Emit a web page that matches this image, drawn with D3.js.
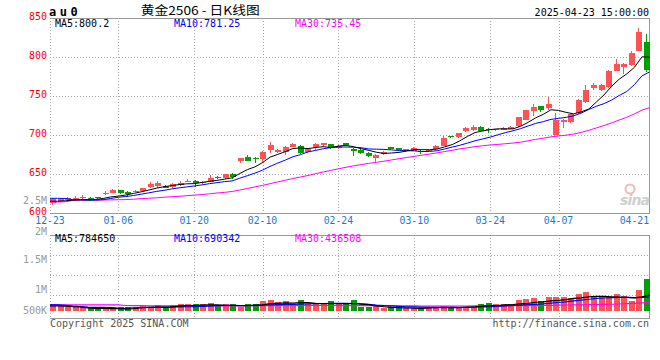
<!DOCTYPE html>
<html><head><meta charset="utf-8">
<script src="https://cdn.jsdelivr.net/npm/d3@7/dist/d3.min.js"></script>
<style>body{margin:0;background:#fff}svg{display:block}</style>
</head><body><svg id="c" width="660" height="360"></svg>
<script>
const dates = ["12-23","12-24","12-25","12-26","12-27","12-30","12-31",
"01-02","01-03","01-06","01-07","01-08","01-09","01-10","01-13","01-14","01-15","01-16","01-17","01-20","01-21","01-22","01-23","01-24","01-27",
"02-05","02-06","02-07","02-10","02-11","02-12","02-13","02-14","02-17","02-18","02-19","02-20","02-21","02-24","02-25","02-26","02-27","02-28",
"03-03","03-04","03-05","03-06","03-07","03-10","03-11","03-12","03-13","03-14","03-17","03-18","03-19","03-20","03-21","03-24","03-25","03-26","03-27","03-28","03-31",
"04-01","04-02","04-03","04-07","04-08","04-09","04-10","04-11","04-14","04-15","04-16","04-17","04-18","04-21","04-22","04-23"];
const open = [613,616,617,618.5,619,619,620.5,624.5,626.5,630,627.5,628,628,634,635,635.5,634,636,640.5,642,638.5,640.5,646.5,645,650.5,
667,672.5,670.5,669,681.5,678,679,685.5,686.5,678,685,687,688.5,683.5,689.5,683,681,677,670.5,676,684.5,683.5,679.5,680.5,680.5,679.5,682,686.5,698.5,697.5,
705,707,711,708,707,707,708.5,712,720,731.5,737.5,734.5,700.5,717.5,717.5,729,743,761,758,762.5,783,788,790,808.5,820];
const high = [619,619,621,622,623,620.5,621.5,628,631,630.5,628,630.5,633,639.5,642,636,638.5,642,644.5,642.5,641.5,649,648,651,652,
671,675,672,680,691,682,686,690,687,683.5,690,690.5,689,687.5,690.5,684,682,678,675.5,680,685,684,683,684.5,681.5,682.5,687.5,699.5,699.5,703.5,
711,713,711.5,709.5,708.5,710.5,712,724,733,740,738,749,728,720.5,728,746,764,767,765.5,783.5,797.5,792.5,807.5,837,830];
const low = [611,615,616,617,618,616,618,623,626,625,620.5,627,627.5,632,633,632,632,635,640,634,637,640,644,644,644.5,
665,667,665,664,677,677,675,685,676.5,677,681,685.5,683,682.5,686,674,676,672,666,675,681,680.5,679,680,676,679,681,686,696.5,697,
704,706,705.5,702.5,706,706.5,708,711,719,725,730,732,700,710,716,727,742,757.5,757,761,782,778,789,808,781.5];
const close = [618.5,618,619,619.5,621,618.5,619,625.5,630,625.5,624.5,629,632.5,637,639,632.5,637.5,639,641.5,639,640.5,645.5,646,650,647,
670.5,667.5,669.5,679,687,681,685,689,677,682.5,688.5,690,683.5,686.5,687,679.5,677.5,673,674.5,679,682.5,681.5,682,683.5,678.5,681.5,686.5,696,698,702.5,
710,711,706,707,707.5,709.5,711,723,732,736.5,732,740,719,719.5,727,745,758,764.5,764.5,782.5,791,791.5,806,832,784];
const ma5 = [615.5,615.5,616,616.8,617.5,617.5,617.8,619,621,622,623.5,625.5,627.5,629.7,632.2,634,635.5,636.8,637.8,638,639.5,641,642.2,643.8,645.5,
651,656,659.5,665,672,675.5,679,683,683.8,682.9,684.4,685.4,684.3,686.2,687.1,685.3,682.8,680.7,678.3,676.7,677.3,678.1,679.9,681.7,681.6,681.4,682.4,685.2,688.1,692.9,
698.6,703.5,705.5,707.3,708.3,708.2,708.2,711.6,716.6,722.4,726.9,732.7,731.9,729.4,727.5,730.1,733.7,742.8,751.8,762.9,772,778.8,787.1,800.6,800.2];
const ma10 = [619.2,619.2,619,617.5,617,616.8,616.8,617.5,619,620.5,621.5,622.8,624.5,626.2,628,629.4,631.2,632.6,633.8,635,636.4,638,639.3,640.6,641.5,
645,648.2,651.5,655.3,660.2,664.3,668.2,672.5,675.2,678.8,680.6,682.8,684.2,685,685,684.8,684.1,682.5,682.2,681.9,681.3,680.4,680.3,680,679.2,679.3,680.2,682.5,684.9,687.2,
690,693,695.3,697.7,700.6,703.4,705.8,708.5,712,715.3,717.5,720.4,721.7,723,725,728.5,733.2,737.3,740.6,745.2,751.1,756.2,765,776.2,781.25];
const ma30 = [614.5,614.5,614.8,616.5,617,617,617,617,617.2,617.4,617.6,618,618.8,619.3,619.8,620.6,621.2,621.8,622.6,623.3,624,625,626,626.8,628,
629.8,631.8,633.8,635.8,638,640.2,642.4,644.6,646.5,648.5,650.8,653,655,657,659,660.8,662.5,664,665.4,666.8,668.4,670,671.5,673,674.5,676,677.5,679.2,680.8,682.6,
684,685.4,686.6,687.6,688.3,689.2,690.1,691.2,693,694.8,696.3,698,699.1,700.2,701.6,703.8,706.4,709.5,712.5,715.9,719.6,723.2,727.4,732.3,735.45];
const volume = [340000,250000,210000,210000,210000,210000,180000,160000,180000,180000,
210000,210000,230000,210000,300000,210000,300000,340000,340000,340000,
330000,390000,260000,340000,340000,210000,340000,340000,490000,540000,
440000,490000,340000,540000,340000,340000,340000,490000,340000,340000,
540000,210000,210000,300000,160000,210000,210000,130000,130000,130000,
130000,210000,250000,210000,210000,210000,210000,340000,380000,340000,
340000,340000,540000,590000,660000,490000,700000,700000,700000,630000,
840000,920000,740000,740000,700000,840000,740000,490000,1030000,1580000];
const volMa5 = [250000,250000,240000,210000,200000,150000,130000,130000,120000,110000,
100000,110000,160000,180000,190000,190000,200000,240000,260000,270000,
290000,300000,300000,280000,270000,260000,260000,280000,300000,360000,
380000,400000,390000,410000,410000,380000,360000,360000,360000,360000,
370000,340000,310000,250000,210000,180000,160000,150000,140000,130000,
150000,170000,170000,170000,170000,190000,210000,240000,260000,270000,
300000,320000,350000,380000,430000,450000,500000,520000,560000,620000,
650000,700000,720000,720000,700000,680000,670000,650000,700000,784650];
const volMa10 = [300000,300000,280000,240000,220000,190000,180000,180000,170000,140000,
130000,160000,170000,180000,180000,180000,190000,200000,210000,220000,
230000,240000,260000,280000,280000,270000,270000,280000,290000,300000,
310000,320000,330000,340000,350000,360000,370000,380000,380000,380000,
370000,350000,330000,290000,270000,250000,230000,210000,200000,190000,
180000,180000,180000,180000,180000,180000,190000,200000,210000,230000,
250000,270000,290000,310000,330000,350000,390000,420000,450000,500000,
540000,580000,620000,640000,660000,670000,670000,660000,670000,690342];
const volMa30 = [300000,300000,300000,300000,300000,300000,300000,300000,300000,300000,
270000,266000,262000,258000,255000,252000,250000,250000,250000,250000,
250000,250000,250000,252000,254000,255000,256000,258000,260000,262000,
264000,266000,268000,270000,270000,270000,270000,270000,268000,266000,
264000,262000,260000,258000,256000,254000,252000,250000,248000,246000,
245000,245000,245000,245000,246000,247000,248000,250000,252000,255000,
258000,260000,262000,264000,266000,270000,280000,288000,295000,300000,
305000,310000,315000,322000,332000,345000,360000,378000,400000,436508];
const priceTicks = [850,800,750,700,650,600];
const volTicks = [2500000,2000000,1500000,1000000,500000];
const dateTicks = ["12-23","01-06","01-20","02-10","02-24","03-10","03-24","04-07","04-21"];

const svg = d3.select("#c");
const L = 50, R = 649.6, T = 18.3, B = 213.3, VT = 235, VB = 318.3;
const MONO = "DejaVu Sans Mono, monospace";
const RED = "#ff5353", GREEN = "#00a000", GRID = "#a8a8a8", BORDER = "#999";

const xc = d3.scalePoint().domain(dates).range([L, R]).padding(0.4);
const xg = d3.scalePoint().domain(dates).range([L, R]);
const y = d3.scaleLinear().domain([600, 850]).range([B, T]);
const yv = d3.scaleLinear().domain([0, 1e6]).range([311, 290.7]);
const yvLabel = d3.scaleLinear().domain(volTicks).range([200.3, 231.8, 260, 290, 311]);
const idx = d3.range(dates.length);

const g = svg.append("g");
// grids
const grid = g.append("g").attr("stroke", GRID).attr("stroke-dasharray", "1,2").attr("shape-rendering","crispEdges");
priceTicks.slice(1, -1).forEach(v => {
  const yy = Math.round(y(v)) + 0.5;
  grid.append("line").attr("x1", L).attr("x2", R).attr("y1", yy).attr("y2", yy);
});
d3.range(1, 4).forEach(k => {
  const yy = VT + k * 20 + 0.5;
  grid.append("line").attr("x1", L).attr("x2", R).attr("y1", yy).attr("y2", yy);
});
dateTicks.slice(1, -1).forEach(d => {
  const xx = Math.round(xg(d)) + 0.5;
  grid.append("line").attr("x1", xx).attr("x2", xx).attr("y1", T).attr("y2", B);
  grid.append("line").attr("x1", xx).attr("x2", xx).attr("y1", VT).attr("y2", VB);
});
grid.append("line").attr("x1", L + 0.5).attr("x2", L + 0.5).attr("y1", T).attr("y2", B);
grid.append("line").attr("x1", L + 0.5).attr("x2", L + 0.5).attr("y1", VT).attr("y2", VB);
// borders
const bd = g.append("g").attr("stroke", BORDER).attr("shape-rendering","crispEdges");
[[L, Math.round(T)+0.5, R, Math.round(T)+0.5],[L, Math.round(B)+0.5, R, Math.round(B)+0.5],
 [Math.round(R)-0.5, T, Math.round(R)-0.5, B],
 [L, VT+0.5, R, VT+0.5],[L, Math.round(VB)+0.5, R, Math.round(VB)+0.5],[Math.round(R)-0.5, VT, Math.round(R)-0.5, VB]]
 .forEach(a => bd.append("line").attr("x1", a[0]).attr("y1", a[1]).attr("x2", a[2]).attr("y2", a[3]));

// sina watermark
const wm = g.append("g");
wm.append("circle").attr("cx", 630).attr("cy", 189).attr("r", 4.5).attr("fill", "none").attr("stroke", "#f4b8b8").attr("stroke-width", 2);
wm.append("text").attr("x", 620).attr("y", 205).attr("font-family", "DejaVu Sans, sans-serif").attr("font-style","italic")
  .attr("font-weight","bold").attr("font-size", 14).attr("fill", "#cfcfcf").attr("textLength", 30).text("sina");

// candles
const cg = g.append("g").attr("shape-rendering", "crispEdges");
idx.forEach(i => {
  const d = dates[i];
  const xr = Math.round(xc(d));
  const col = close[i] >= open[i] ? RED : GREEN;
  cg.append("rect").attr("x", xr - 1).attr("width", 1)
    .attr("y", y(high[i])).attr("height", Math.max(1, y(low[i]) - y(high[i]))).attr("fill", col);
  const top = y(Math.max(open[i], close[i])), bot = y(Math.min(open[i], close[i]));
  cg.append("rect").attr("x", xr - 3).attr("width", 6)
    .attr("y", top).attr("height", Math.max(1, bot - top)).attr("fill", col);
});
// MA lines
const lineP = arr => d3.line().x((v, i) => xg(dates[i])).y(v => y(v))(arr);
[[ma30, "#ff00ff"], [ma10, "#0000ff"], [ma5, "#000000"]].forEach(([a, c]) =>
  g.append("path").attr("d", lineP(a)).attr("fill", "none").attr("stroke", c).attr("stroke-width", 1));

// volume bars
const vg = g.append("g").attr("shape-rendering", "crispEdges");
idx.forEach(i => {
  const d = dates[i];
  const xr = Math.round(xc(d));
  const col = close[i] >= open[i] ? RED : GREEN;
  vg.append("rect").attr("x", xr - 3).attr("width", 6).attr("y", yv(volume[i]))
    .attr("height", yv(0) - yv(volume[i])).attr("fill", col);
});
const lineV = arr => d3.line().x((v, i) => xg(dates[i])).y(v => yv(v))(arr);
[[volMa30, "#ff00ff"], [volMa10, "#0000ff"], [volMa5, "#000000"]].forEach(([a, c]) =>
  g.append("path").attr("d", lineV(a)).attr("fill", "none").attr("stroke", c).attr("stroke-width", 1.2));

// texts
const txt = (x, yy, s, opt = {}) => g.append("text").attr("x", x).attr("y", yy)
  .attr("font-family", opt.font || MONO).attr("font-size", opt.size || 10)
  .attr("fill", opt.fill || "#000").attr("text-anchor", opt.anchor || "start")
  .attr("font-weight", opt.weight || "normal").text(s);

txt(49, 16, "au0", {size: 12, weight: "bold"}).attr("letter-spacing", 3.5);
txt(140.7, 15, "黄金2506 - 日K线图", {font: "Noto Sans CJK SC, sans-serif", size: 12})
  .attr("textLength", 119).attr("lengthAdjust", "spacingAndGlyphs");
txt(649, 15.5, "2025-04-23 15:00:00", {anchor: "end"});

txt(55, 27, "MA5:" + ma5[ma5.length - 1]);
txt(174, 27, "MA10:" + ma10[ma10.length - 1], {fill: "#0000ff"});
txt(295, 27, "MA30:" + ma30[ma30.length - 1], {fill: "#ff00ff"});

priceTicks.forEach(v => txt(47, y(v) + 1.7, String(v), {anchor: "end", fill: "#ff0000"}));
const fmtV = v => v >= 1e6 ? (v / 1e6) + "M" : (v / 1e3) + "K";
volTicks.forEach(v => txt(47, yvLabel(v) + 3.3, fmtV(v), {anchor: "end", fill: "#999"}));

dateTicks.forEach(d => txt(xg(d), 224.3, d, {anchor: "middle", fill: "#1a7ad0", size: 9.8}));

txt(55, 242.3, "MA5:" + volMa5[volMa5.length - 1]);
txt(174, 242.3, "MA10:" + volMa10[volMa10.length - 1], {fill: "#0000ff"});
txt(295, 242.3, "MA30:" + volMa30[volMa30.length - 1], {fill: "#ff00ff"});

txt(50, 326.5, "Copyright 2025 SINA.COM", {fill: "#555"});
txt(649, 326.5, "http://finance.sina.com.cn", {anchor: "end", fill: "#555"});
</script></body></html>
